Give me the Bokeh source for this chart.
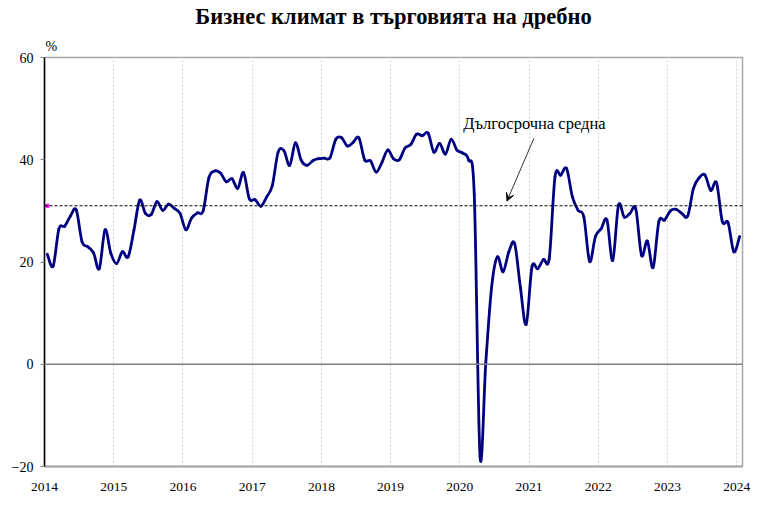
import numpy as np
from bokeh.plotting import figure
from bokeh.models import Range1d, FixedTicker, Span, Label, Arrow, VeeHead, ColumnDataSource, Title
from bokeh.embed import file_html
from bokeh.resources import INLINE

# ---- data (monthly, Jan 2014 - Jan 2024) ----
v2014 = [21.5, 19.2, 26.5, 27.0, 29.0, 30.2, 24.0, 23.0, 21.8, 18.7, 26.3, 21.7]
v2015 = [19.7, 22.0, 21.0, 26.2, 32.1, 29.5, 29.3, 31.8, 30.1, 31.3, 30.5, 29.5]
v2016 = [26.3, 28.6, 29.6, 30.0, 36.5, 37.8, 37.4, 35.7, 36.3, 34.4, 37.5, 32.4]
v2017 = [32.2, 30.9, 32.7, 35.0, 41.5, 41.8, 38.9, 43.3, 39.9, 38.9, 39.8, 40.2]
v2018 = [40.3, 40.4, 44.0, 44.3, 42.7, 43.4, 44.3, 40.0, 39.8, 37.6, 39.5, 41.9]
v2019 = [40.2, 40.0, 42.3, 43.0, 45.0, 44.7, 45.2, 41.5, 43.2, 41.1, 44.0, 41.9]
v2020 = [41.3, 40.0, 33.2, -18.0, 0.3, 15.0, 21.0, 18.1, 22.0, 23.6, 15.0, 7.8]
v2021 = [19.0, 18.7, 20.5, 20.7, 36.7, 37.0, 38.3, 32.8, 30.1, 28.8, 20.1, 25.0]
v2022 = [26.5, 28.2, 20.3, 31.1, 28.8, 29.5, 30.4, 21.3, 24.1, 18.9, 27.9, 28.2]
v2023 = [30.0, 30.3, 29.5, 29.0, 34.4, 36.5, 37.0, 34.0, 35.5, 27.9, 27.7, 22.0]
v2024 = [25.0]
long_term_avg = 31.0

years = list(range(2014, 2025))
year_labels = [str(y) for y in years]
y_ticks = [-20, 0, 20, 40, 60]

title_text = "Бизнес климат в търговията на дребно"
avg_label = "Дългосрочна средна"
unit_label = "%"

values = np.array(v2014 + v2015 + v2016 + v2017 + v2018 + v2019 +
                  v2020 + v2021 + v2022 + v2023 + v2024, dtype=float)
n = len(values)
xs = 2014 + (np.arange(n) + 0.5) / 12.0

# Catmull-Rom -> cubic Bezier control points (smoothed line through the data)
P = np.column_stack([xs, values])
Pm = np.vstack([P[0], P[:-1]])          # previous
Pp = np.vstack([P[1:], P[-1]])          # next
i0 = np.arange(n - 1)
p0 = Pm[i0]; p1 = P[i0]; p2 = P[i0 + 1]; p3 = Pp[i0 + 1]
c1 = p1 + (p2 - p0) / 6.0
c2 = p2 - (p3 - p1) / 6.0
src = ColumnDataSource(dict(x0=p1[:, 0], y0=p1[:, 1], x1=p2[:, 0], y1=p2[:, 1],
                            cx0=c1[:, 0], cy0=c1[:, 1], cx1=c2[:, 0], cy1=c2[:, 1]))

SERIF = "Liberation Serif"

p = figure(width=752, height=501, output_backend="svg", toolbar_location=None,
           x_range=Range1d(2014, 2024 + 1 / 12.0), y_range=Range1d(-20, 60),
           min_border_left=44, min_border_right=10, min_border_top=57,
           min_border_bottom=35, title=None)
p.background_fill_color = "white"
p.border_fill_color = "white"
p.outline_line_color = "#a6a6a6"
p.outline_line_width = 1.5

# "%" unit title (closest to the frame), then the main title above it
p.add_layout(Title(text=unit_label, align="left", offset=1, standoff=7,
                   text_font=SERIF, text_font_size="14px", text_font_style="normal",
                   text_color="black"), "above")
p.add_layout(Title(text=title_text, align="center", standoff=5, vertical_align="top",
                   text_font=SERIF, text_font_size="22.5px", text_font_style="bold",
                   text_color="black"), "above")

# axes
p.xaxis.ticker = FixedTicker(ticks=years)
p.xaxis.major_label_overrides = {y: s for y, s in zip(years, year_labels)}
p.xaxis.axis_line_color = "#a6a6a6"
p.xaxis.axis_line_width = 2
p.xaxis.major_tick_line_color = None
p.xaxis.minor_tick_line_color = None
p.xaxis.major_label_standoff = 10
p.xaxis.major_label_text_font = SERIF
p.xaxis.major_label_text_font_size = "13.5px"
p.xaxis.major_label_text_color = "black"

p.yaxis.ticker = FixedTicker(ticks=y_ticks)
p.yaxis.axis_line_color = "black"
p.yaxis.axis_line_width = 1.5
p.yaxis.major_tick_line_color = "#808080"
p.yaxis.major_tick_in = 0
p.yaxis.major_tick_out = 4
p.yaxis.minor_tick_line_color = None
p.yaxis.major_label_standoff = 7
p.yaxis.major_label_text_font = SERIF
p.yaxis.major_label_text_font_size = "14px"
p.yaxis.major_label_text_color = "black"

p.xgrid.ticker = FixedTicker(ticks=years)
p.xgrid.grid_line_color = "#d4d4d4"
p.xgrid.grid_line_dash = "2 2"
p.xgrid.grid_line_width = 1
p.ygrid.grid_line_color = None

# reference lines
p.add_layout(Span(location=0, dimension="width", line_color="#808080", line_width=1.5))
p.add_layout(Span(location=long_term_avg, dimension="width", line_color="black",
                  line_width=1, line_dash="3 2"))

# main series
p.bezier(x0="x0", y0="y0", x1="x1", y1="y1", cx0="cx0", cy0="cy0", cx1="cx1", cy1="cy1",
         source=src, line_color="#000080", line_width=2.8, line_cap="round")

# small magenta marker of the average line start
p.scatter([xs[0]], [long_term_avg], marker="square", size=3,
          fill_color="#ff00ff", line_color="#ff00ff")

# annotation
p.add_layout(Label(x=2020.05, y=47.0, text=avg_label, text_font=SERIF,
                   text_font_size="16.5px", text_baseline="middle", text_align="left",
                   text_color="black"))
p.add_layout(Arrow(x_start=2021.07, y_start=44.2, x_end=2020.68, y_end=31.9,
                   line_color="black", line_width=0.8,
                   end=VeeHead(size=8, line_color="black", line_width=0.8,
                               fill_color="black")))

open("out.html", "w").write(file_html(p, INLINE))
